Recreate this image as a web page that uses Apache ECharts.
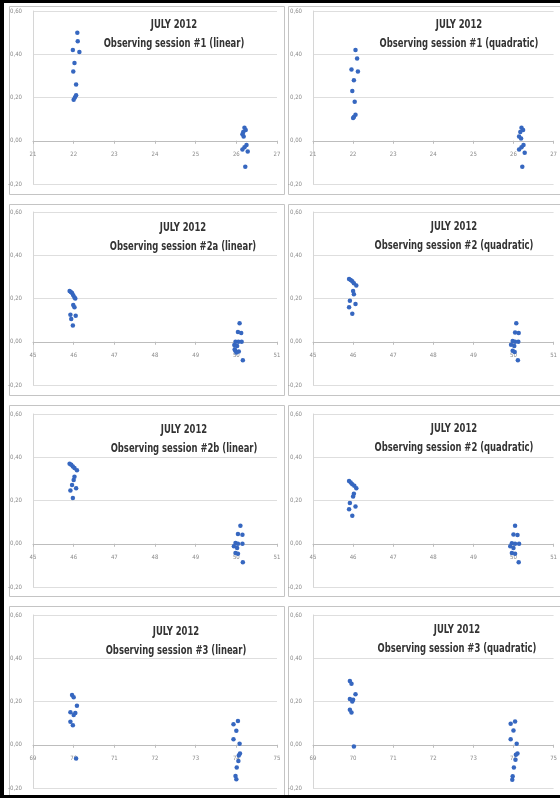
<!DOCTYPE html>
<html>
<head>
	<meta charset="utf-8">
	<title>July 2012 observing sessions</title>
	<style>
		html, body { margin: 0; padding: 0; background: #fff; }
	</style>
</head>
<body>
<script type="text/javascript" src="https://cdn.jsdelivr.net/npm/echarts@6/dist/echarts.min.js"></script>
<div id="container" style="width: 560px;height: 798px;"></div>
<script type="text/javascript">
    // titles and x ranges of the 8 panels
    var titleTop = 'JULY 2012';
    var panelTitles = [
        'Observing session #1 (linear)',
        'Observing session #1 (quadratic)',
        'Observing session #2a (linear)',
        'Observing session #2 (quadratic)',
        'Observing session #2b (linear)',
        'Observing session #2 (quadratic)',
        'Observing session #3 (linear)',
        'Observing session #3 (quadratic)'
    ];
    var panelXMin = [21, 21, 45, 45, 45, 45, 69, 69];
    var panelXMax = [27, 27, 51, 51, 51, 51, 75, 75];
    var yMin = -0.2, yMax = 0.6, yStep = 0.2;

    // points [x, y]
    var s1Linear = [
        [22.09, 0.50], [22.10, 0.46], [21.98, 0.42], [22.14, 0.41], [22.02, 0.36],
        [21.99, 0.32], [22.06, 0.26], [22.00, 0.19], [22.03, 0.20], [22.06, 0.21],
        [26.20, 0.06], [26.23, 0.05], [26.17, 0.04], [26.15, 0.03], [26.18, 0.02],
        [26.25, -0.02], [26.20, -0.03], [26.15, -0.04], [26.28, -0.05], [26.22, -0.12]
    ];
    var s1Quadratic = [
        [22.06, 0.42], [22.10, 0.38], [21.96, 0.33], [22.12, 0.32], [22.02, 0.28],
        [21.98, 0.23], [22.04, 0.18], [22.06, 0.12], [22.02, 0.11], [22.00, 0.105],
        [26.20, 0.06], [26.24, 0.05], [26.17, 0.04], [26.14, 0.02], [26.19, 0.01],
        [26.25, -0.02], [26.20, -0.03], [26.14, -0.04], [26.28, -0.055], [26.22, -0.12]
    ];
    var s2aLinear = [
        [45.90, 0.235], [45.93, 0.23], [45.96, 0.225], [45.99, 0.215], [46.02, 0.205],
        [46.04, 0.20], [45.99, 0.17], [46.02, 0.16], [45.92, 0.125], [46.05, 0.12],
        [45.94, 0.105], [45.98, 0.075],
        [50.08, 0.085], [50.04, 0.045], [50.12, 0.04], [49.98, 0.0], [50.05, 0.0],
        [50.13, 0.0], [49.95, -0.015], [50.02, -0.02], [49.97, -0.04], [50.06, -0.045],
        [50.00, -0.05], [50.16, -0.085], [49.96, -0.035]
    ];
    var s2Quadratic = [
        [45.90, 0.29], [45.94, 0.285], [45.98, 0.28], [46.02, 0.27], [46.08, 0.26],
        [46.00, 0.235], [46.02, 0.22], [45.92, 0.19], [46.06, 0.175], [45.90, 0.16],
        [45.98, 0.13],
        [50.07, 0.085], [50.04, 0.043], [50.13, 0.04], [49.98, 0.004], [50.04, 0.0],
        [50.12, 0.0], [49.94, -0.014], [50.02, -0.02], [49.98, -0.042], [50.03, -0.047],
        [50.11, -0.085]
    ];
    var s2bLinear = [
        [45.90, 0.37], [45.94, 0.365], [45.98, 0.357], [46.02, 0.35], [46.08, 0.34],
        [46.02, 0.31], [46.00, 0.295], [45.96, 0.272], [46.06, 0.257], [45.92, 0.246],
        [45.98, 0.211],
        [50.10, 0.083], [50.04, 0.045], [50.15, 0.042], [49.98, 0.003], [50.04, 0.0],
        [50.15, 0.0], [49.94, -0.012], [50.02, -0.02], [49.98, -0.043], [50.04, -0.046],
        [50.16, -0.086]
    ];
    var s2Quadratic2 = [
        [45.90, 0.29], [45.94, 0.283], [45.98, 0.275], [46.03, 0.268], [46.08, 0.257],
        [46.02, 0.231], [46.00, 0.219], [45.92, 0.188], [46.06, 0.172], [45.90, 0.16],
        [45.98, 0.129],
        [50.04, 0.083], [50.00, 0.043], [50.10, 0.041], [49.96, 0.002], [50.04, 0.0],
        [50.14, 0.0], [49.92, -0.012], [50.00, -0.02], [49.96, -0.043], [50.04, -0.046],
        [50.13, -0.086]
    ];
    var s3Linear = [
        [69.96, 0.23], [70.00, 0.22], [70.08, 0.18], [69.92, 0.15], [70.04, 0.147],
        [70.00, 0.137], [69.92, 0.106], [69.98, 0.09], [70.06, -0.064],
        [74.04, 0.11], [73.93, 0.095], [74.00, 0.065], [73.93, 0.025], [74.08, 0.005],
        [74.09, -0.04], [74.06, -0.05], [74.05, -0.075], [74.01, -0.105], [73.98, -0.145],
        [74.00, -0.16]
    ];
    var s3Quadratic = [
        [69.92, 0.295], [69.96, 0.282], [70.06, 0.234], [69.92, 0.211], [70.00, 0.208],
        [69.98, 0.20], [69.92, 0.162], [69.96, 0.149], [70.02, -0.008],
        [74.04, 0.108], [73.93, 0.097], [74.00, 0.066], [73.93, 0.026], [74.08, 0.005],
        [74.10, -0.04], [74.06, -0.046], [74.05, -0.069], [74.01, -0.105], [73.98, -0.146],
        [73.97, -0.162]
    ];
    var panelData = [s1Linear, s1Quadratic, s2aLinear, s2Quadratic, s2bLinear, s2Quadratic2, s3Linear, s3Quadratic];

    // layout (pixels)
    var colLeft = [33, 313];
    var rowTop = [11, 212, 414, 615];
    var plotW = 244, plotH = 173;
    var frameX = [9, 288], frameW = [275, 276];
    var frameY = [6, 204, 405, 606], frameH = [188, 191, 191, 189];
    var titleX = [174, 459, 183, 454, 184, 454, 176, 457];
    var titleY = [25, 25, 228, 227, 430, 429, 632, 630];

    var myChart = echarts.init(document.getElementById('container'), null, {renderer: 'canvas'});
    var grids = [], xAxes = [], yAxes = [], series = [], graphics = [];
    var labelFont = 'DejaVu Sans Condensed, DejaVu Sans, sans-serif';
    // x axis sits on the y = 0 line (Excel style), moved up from the bottom
    var zeroOffset = -plotH * (0 - yMin) / (yMax - yMin);

    // page frame (black edges of the scanned picture)
    graphics.push({type: 'rect', shape: {x: 0, y: 0, width: 4, height: 798}, style: {fill: '#000'}, z: 10});
    graphics.push({type: 'rect', shape: {x: 0, y: 0, width: 560, height: 3}, style: {fill: '#000'}, z: 10});
    graphics.push({type: 'rect', shape: {x: 0, y: 795, width: 560, height: 3}, style: {fill: '#000'}, z: 10});

    for (var i = 0; i < 8; i++) {
        var col = i % 2, row = Math.floor(i / 2);
        grids.push({left: colLeft[col], top: rowTop[row], width: plotW, height: plotH, containLabel: false});
        xAxes.push({
            type: 'value', gridIndex: i, min: panelXMin[i], max: panelXMax[i], interval: 1,
            position: 'bottom', offset: zeroOffset,
            axisLine: {onZero: false, lineStyle: {color: '#bdbdbd', width: 1}},
            axisTick: {show: true, length: 3, lineStyle: {color: '#bdbdbd'}},
            axisLabel: {fontSize: 6, color: '#8a8a8a', margin: 11, fontFamily: labelFont},
            splitLine: {show: false}
        });
        yAxes.push({
            type: 'value', gridIndex: i, min: yMin, max: yMax, interval: yStep,
            axisLine: {show: true, onZero: false, lineStyle: {color: '#d6d6d6'}},
            axisTick: {show: false},
            axisLabel: {
                fontSize: 6, color: '#8a8a8a', margin: 11, fontFamily: labelFont,
                formatter: function (v) { return v.toFixed(2).replace('.', ','); }
            },
            splitLine: {show: true, lineStyle: {color: '#dedede', width: 1}}
        });
        series.push({
            type: 'scatter', xAxisIndex: i, yAxisIndex: i,
            data: panelData[i], symbol: 'circle', symbolSize: 4.5,
            itemStyle: {color: '#3667c0', opacity: 1},
            z: 5,
            silent: true
        });
        graphics.push({
            type: 'rect',
            shape: {x: frameX[col] + 0.5, y: frameY[row] + 0.5, width: frameW[col], height: frameH[row]},
            style: {fill: 'none', stroke: '#c4c4c4', lineWidth: 1}, z: -1
        });
        // narrow bold titles: condensed font squeezed a little more
        graphics.push({
            type: 'text', x: titleX[i], y: titleY[i], scaleX: 0.78,
            style: {
                text: titleTop, align: 'center', verticalAlign: 'middle',
                fontSize: 12, fontWeight: 'bold', fontFamily: labelFont, fill: '#333'
            }
        });
        graphics.push({
            type: 'text', x: titleX[i], y: titleY[i] + 19, scaleX: 0.78,
            style: {
                text: panelTitles[i], align: 'center', verticalAlign: 'middle',
                fontSize: 12, fontWeight: 'bold', fontFamily: labelFont, fill: '#333'
            }
        });
    }

    var option = {
        backgroundColor: '#fff',
        animation: false,
        grid: grids,
        xAxis: xAxes,
        yAxis: yAxes,
        series: series,
        graphic: graphics
    };
    myChart.setOption(option);
    window.addEventListener('resize', myChart.resize);
</script>
</body>
</html>
